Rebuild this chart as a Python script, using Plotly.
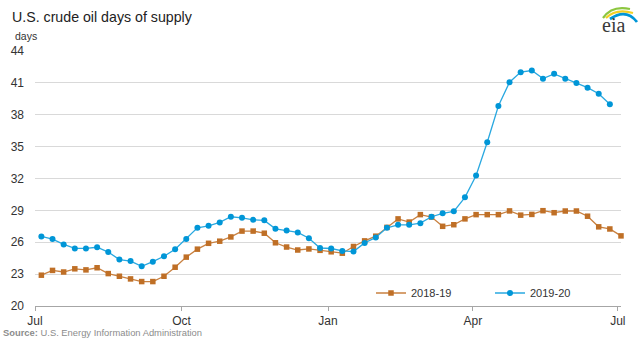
import pandas as pd
import plotly.graph_objects as go

# ---- data (weekly, week ending Friday; both seasons drawn on a Jul–Jul axis) ----
start_week = "2019-07-05"
series_2018_19 = [22.9, 23.35, 23.2, 23.5, 23.4, 23.6, 23.05, 22.8, 22.55, 22.3,
                  22.3, 22.8, 23.65, 24.6, 25.35, 25.9, 26.1, 26.5, 27.05, 27.05,
                  26.85, 25.95, 25.55, 25.27, 25.37, 25.24, 25.1, 24.97, 25.6, 26.13,
                  26.57, 27.4, 28.2, 27.9, 28.6, 28.37, 27.5, 27.65, 28.2, 28.6,
                  28.6, 28.6, 28.95, 28.55, 28.62, 28.97, 28.78, 28.94, 28.94, 28.45,
                  27.45, 27.25, 26.6]
series_2019_20 = [26.55, 26.3, 25.8, 25.42, 25.42, 25.53, 25.08, 24.37, 24.23, 23.73,
                  24.17, 24.68, 25.34, 26.31, 27.36, 27.55, 27.87, 28.4, 28.3, 28.11,
                  28.06, 27.26, 27.11, 26.92, 26.38, 25.46, 25.41, 25.18, 25.12, 25.94,
                  26.45, 27.36, 27.64, 27.64, 27.8, 28.4, 28.72, 28.91, 30.23, 32.29,
                  35.41, 38.82, 41.06, 42.01, 42.16, 41.4, 41.85, 41.4, 41.0, 40.55,
                  39.98, 38.98]
names = ["2018-19", "2019-20"]
tick_dates = ["2019-07-01", "2019-10-01", "2020-01-01", "2020-04-01", "2020-07-01"]
tick_labels = ["Jul", "Oct", "Jan", "Apr", "Jul"]
y_ticks = [20, 23, 26, 29, 32, 35, 38, 41, 44]

dates_a = pd.date_range(start_week, periods=len(series_2018_19), freq="7D")
dates_b = pd.date_range(start_week, periods=len(series_2019_20), freq="7D")

FONT = "Liberation Sans, Arial, sans-serif"
ORANGE_L, ORANGE_M = "#C98140", "#BF6F26"
BLUE_L, BLUE_M = "#29A8E0", "#0096D7"

W, H = 640, 342
L, R, T, B = 35, 19, 51, 36
pw, ph = W - L - R, H - T - B


def px(x, y):
    return (x - L) / pw, (H - B - y) / ph


fig = go.Figure()
fig.add_trace(go.Scatter(x=dates_a, y=series_2018_19, name=names[0], mode="lines+markers",
                         line=dict(color=ORANGE_L, width=1.3),
                         marker=dict(symbol="square", size=5.5, color=ORANGE_M),
                         cliponaxis=False))
fig.add_trace(go.Scatter(x=dates_b, y=series_2019_20, name=names[1], mode="lines+markers",
                         line=dict(color=BLUE_L, width=1.3),
                         marker=dict(symbol="circle", size=6, color=BLUE_M),
                         cliponaxis=False))

annotations = []
tx, ty = px(10, 17)
annotations.append(dict(text="U.S. crude oil days of supply", x=tx, y=ty, xref="paper", yref="paper",
                        xanchor="left", yanchor="middle", showarrow=False,
                        font=dict(family=FONT, size=14.2, color="#222222")))
dx, dy = px(13, 35.5)
annotations.append(dict(text="days", x=dx, y=dy, xref="paper", yref="paper",
                        xanchor="left", yanchor="middle", showarrow=False,
                        font=dict(family=FONT, size=10.5, color="#333333")))
sx, sy = px(1, 332)
annotations.append(dict(text="<b>Source:</b> U.S. Energy Information Administration", x=sx, y=sy,
                        xref="paper", yref="paper", xanchor="left", yanchor="middle", showarrow=False,
                        font=dict(family=FONT, size=9.4, color="#8C8C8C")))
ex, ey = px(613, 25)
annotations.append(dict(text="eia", x=ex, y=ey, xref="paper", yref="paper",
                        xanchor="center", yanchor="middle", showarrow=False,
                        font=dict(family="Liberation Serif, serif", size=20, color="#3A3A3A")))


def arc(p0, c, p1):
    a, b = px(*p0)
    cx, cy = px(*c)
    d, e = px(*p1)
    return f"M{a},{b} Q{cx},{cy} {d},{e}"


shapes = [
    dict(type="path", xref="paper", yref="paper", path=arc((603, 18), (612, 5), (630, 9)),
         line=dict(color="#8CC63F", width=2.2)),
    dict(type="path", xref="paper", yref="paper", path=arc((606, 18), (616, 8), (633, 13)),
         line=dict(color="#F2D024", width=2.2)),
    dict(type="path", xref="paper", yref="paper", path=arc((610, 19), (626, 8), (637, 22)),
         line=dict(color="#0096D7", width=2.8)),
]

lx, ly = px(371, 293)
fig.update_layout(
    width=W, height=H,
    margin=dict(l=L, r=R, t=T, b=B),
    paper_bgcolor="white", plot_bgcolor="white",
    font=dict(family=FONT, size=12, color="#333333"),
    showlegend=True,
    legend=dict(orientation="h", x=lx, y=ly, xanchor="left", yanchor="middle",
                entrywidth=74, font=dict(family=FONT, size=11, color="#333333"),
                bgcolor="rgba(0,0,0,0)", itemclick=False),
    xaxis=dict(type="date", range=["2019-07-01", "2020-07-03"],
               tickvals=tick_dates, ticktext=tick_labels,
               showgrid=False, showline=True, linecolor="#A6A6A6", linewidth=1,
               ticks="outside", ticklen=4, tickcolor="#A6A6A6",
               tickfont=dict(family=FONT, size=12, color="#333333"), zeroline=False),
    yaxis=dict(range=[20, 44], tickvals=y_ticks, showgrid=True, gridcolor="#D9D9D9",
               gridwidth=1, zeroline=False, showline=False, ticks="",
               ticklabelstandoff=10,
               tickfont=dict(family=FONT, size=12, color="#333333")),
    annotations=annotations,
    shapes=shapes,
)

fig.write_html("out.html")
